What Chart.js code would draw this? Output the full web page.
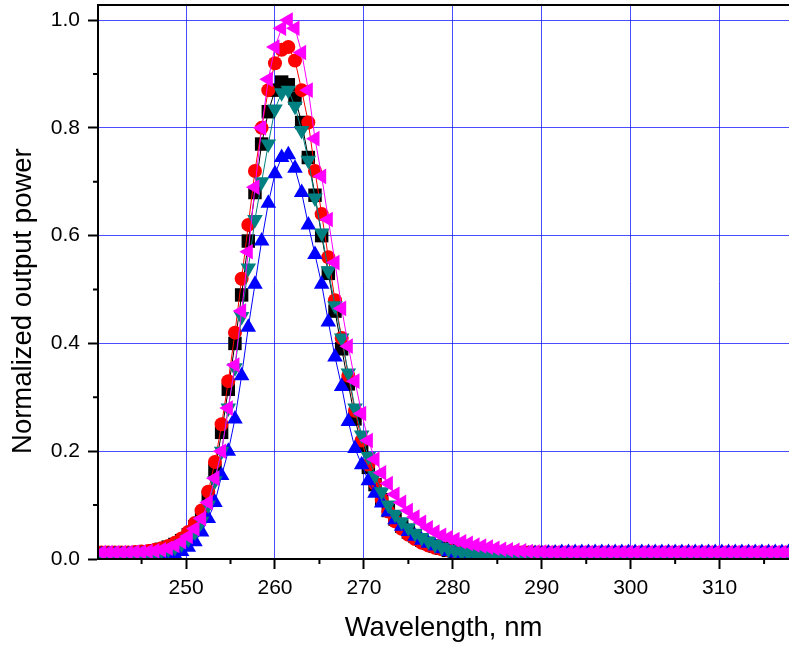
<!DOCTYPE html>
<html>
<head>
<meta charset="utf-8">
<script src="https://cdn.jsdelivr.net/npm/chart.js@4.4.1/dist/chart.umd.min.js"></script>
<style>
html, body { margin: 0; padding: 0; background: #fff; }
#wrap { width: 789px; height: 647px; }
</style>
</head>
<body>
<div id="wrap"><canvas id="spectra"></canvas></div>
<script>
// wavelength grid, nm
const wavelength = [
  240.5, 241.25, 242, 242.75, 243.5, 244.25, 245, 245.75, 246.5, 247.25, 248, 248.75, 249.5,
  250.25, 251, 251.75, 252.5, 253.25, 254, 254.75, 255.5, 256.25, 257, 257.75, 258.5, 259.25,
  260, 260.75, 261.5, 262.25, 263, 263.75, 264.5, 265.25, 266, 266.75, 267.5, 268.25, 269,
  269.75, 270.5, 271.25, 272, 272.75, 273.5, 274.25, 275, 275.75, 276.5, 277.25, 278, 278.75,
  279.5, 280.25, 281, 281.75, 282.5, 283.25, 284, 284.75, 285.5, 286.25, 287, 287.75, 288.5,
  289.25, 290, 290.75, 291.5, 292.25, 293, 293.75, 294.5, 295.25, 296, 296.75, 297.5, 298.25,
  299, 299.75, 300.5, 301.25, 302, 302.75, 303.5, 304.25, 305, 305.75, 306.5, 307.25, 308,
  308.75, 309.5, 310.25, 311, 311.75, 312.5, 313.25, 314, 314.75, 315.5, 316.25, 317, 317.75
];

const powerBlack = [
  0.011, 0.011, 0.011, 0.011, 0.011, 0.011, 0.012, 0.013, 0.015, 0.018, 0.022, 0.027, 0.034,
  0.045, 0.06, 0.082, 0.115, 0.165, 0.235, 0.315, 0.4, 0.49, 0.59, 0.68, 0.77, 0.83,
  0.87, 0.885, 0.88, 0.855, 0.81, 0.745, 0.675, 0.6, 0.53, 0.46, 0.39, 0.325, 0.26,
  0.21, 0.17, 0.138, 0.11, 0.09, 0.074, 0.061, 0.05, 0.042, 0.035, 0.029, 0.024, 0.02,
  0.016, 0.014, 0.012, 0.011, 0.011, 0.011, 0.011, 0.011, 0.011, 0.011, 0.011, 0.011, 0.011,
  0.011, 0.011, 0.011, 0.011, 0.011, 0.011, 0.011, 0.011, 0.011, 0.011, 0.011, 0.011, 0.011,
  0.011, 0.011, 0.011, 0.011, 0.011, 0.011, 0.011, 0.011, 0.011, 0.011, 0.011, 0.011, 0.011,
  0.011, 0.011, 0.011, 0.011, 0.011, 0.011, 0.011, 0.011, 0.011, 0.011, 0.011, 0.011, 0.011
];

const powerRed = [
  0.012, 0.012, 0.012, 0.012, 0.012, 0.013, 0.014, 0.015, 0.017, 0.02, 0.024, 0.03, 0.038,
  0.05, 0.067, 0.09, 0.125, 0.18, 0.25, 0.33, 0.42, 0.52, 0.62, 0.72, 0.8, 0.87,
  0.92, 0.945, 0.95, 0.925, 0.87, 0.81, 0.72, 0.64, 0.56, 0.48, 0.41, 0.34, 0.275,
  0.22, 0.175, 0.14, 0.11, 0.088, 0.07, 0.056, 0.045, 0.037, 0.03, 0.025, 0.021, 0.018,
  0.016, 0.014, 0.013, 0.012, 0.012, 0.012, 0.012, 0.012, 0.012, 0.012, 0.012, 0.012, 0.012,
  0.012, 0.012, 0.012, 0.012, 0.012, 0.012, 0.012, 0.012, 0.012, 0.012, 0.012, 0.012, 0.012,
  0.012, 0.012, 0.012, 0.012, 0.012, 0.012, 0.012, 0.012, 0.012, 0.012, 0.012, 0.012, 0.012,
  0.012, 0.012, 0.012, 0.012, 0.012, 0.012, 0.012, 0.012, 0.012, 0.012, 0.012, 0.012, 0.012
];

const powerBlue = [
  0.008, 0.008, 0.008, 0.008, 0.008, 0.008, 0.008, 0.007, 0.006, 0.005, 0.004, 0.008, 0.014,
  0.022, 0.032, 0.05, 0.075, 0.105, 0.155, 0.2, 0.26, 0.34, 0.43, 0.51, 0.59, 0.66,
  0.715, 0.745, 0.75, 0.725, 0.68, 0.62, 0.565, 0.51, 0.44, 0.375, 0.32, 0.255, 0.205,
  0.175, 0.145, 0.122, 0.104, 0.087, 0.073, 0.061, 0.051, 0.042, 0.035, 0.029, 0.024, 0.019,
  0.014, 0.011, 0.008, 0.006, 0.004, 0.003, 0.003, 0.004, 0.005, 0.006, 0.007, 0.008, 0.009,
  0.01, 0.01, 0.011, 0.011, 0.012, 0.012, 0.012, 0.012, 0.012, 0.012, 0.012, 0.012, 0.012,
  0.012, 0.012, 0.012, 0.012, 0.012, 0.012, 0.012, 0.012, 0.012, 0.012, 0.012, 0.012, 0.012,
  0.012, 0.012, 0.012, 0.012, 0.012, 0.012, 0.012, 0.012, 0.012, 0.012, 0.012, 0.012, 0.012
];

const powerTeal = [
  0.01, 0.01, 0.01, 0.01, 0.01, 0.01, 0.011, 0.012, 0.013, 0.015, 0.018, 0.022, 0.028,
  0.037, 0.05, 0.07, 0.1, 0.145, 0.2, 0.28, 0.355, 0.45, 0.54, 0.63, 0.7, 0.77,
  0.835, 0.865, 0.87, 0.84, 0.795, 0.74, 0.67, 0.605, 0.535, 0.47, 0.41, 0.345, 0.28,
  0.23, 0.19, 0.155, 0.125, 0.1, 0.083, 0.069, 0.058, 0.048, 0.04, 0.033, 0.027, 0.022,
  0.018, 0.015, 0.012, 0.01, 0.009, 0.008, 0.008, 0.009, 0.009, 0.01, 0.01, 0.01, 0.01,
  0.01, 0.01, 0.01, 0.01, 0.01, 0.01, 0.01, 0.01, 0.01, 0.01, 0.01, 0.01, 0.01,
  0.01, 0.01, 0.01, 0.01, 0.01, 0.01, 0.01, 0.01, 0.01, 0.01, 0.01, 0.01, 0.01,
  0.01, 0.01, 0.01, 0.01, 0.01, 0.01, 0.01, 0.01, 0.01, 0.01, 0.01, 0.01, 0.01
];

const powerMagenta = [
  0.012, 0.012, 0.012, 0.012, 0.012, 0.013, 0.013, 0.014, 0.015, 0.017, 0.02, 0.025, 0.032,
  0.042, 0.056, 0.075, 0.105, 0.15, 0.2, 0.28, 0.36, 0.46, 0.57, 0.69, 0.8, 0.89,
  0.95, 0.985, 1.0, 0.985, 0.94, 0.87, 0.78, 0.71, 0.63, 0.55, 0.465, 0.395, 0.33,
  0.27, 0.22, 0.185, 0.16, 0.14, 0.12, 0.105, 0.09, 0.078, 0.068, 0.058, 0.05, 0.044,
  0.04, 0.036, 0.032, 0.029, 0.026, 0.024, 0.022, 0.02, 0.018, 0.017, 0.016, 0.015, 0.014,
  0.013, 0.013, 0.012, 0.012, 0.012, 0.012, 0.012, 0.012, 0.012, 0.012, 0.012, 0.012, 0.012,
  0.012, 0.012, 0.012, 0.012, 0.012, 0.012, 0.012, 0.012, 0.012, 0.012, 0.012, 0.012, 0.012,
  0.012, 0.012, 0.012, 0.012, 0.012, 0.012, 0.012, 0.012, 0.012, 0.012, 0.012, 0.012, 0.012
];

const xTicks = [250, 260, 270, 280, 290, 300, 310];
const xMinor = [245, 255, 265, 275, 285, 295, 305, 315];
const yTicks = [0, 0.2, 0.4, 0.6, 0.8, 1.0];
const yMinor = [0.1, 0.3, 0.5, 0.7, 0.9];

const font = 'Liberation Sans, Arial, sans-serif';

function series(values, color, style, rotation, radius, order) {
  return {
    data: wavelength.map((w, i) => ({ x: w, y: values[i] })),
    borderColor: color,
    backgroundColor: color,
    borderWidth: 1,
    pointStyle: style,
    pointRotation: rotation,
    pointRadius: radius,
    pointBorderWidth: 0,
    pointBackgroundColor: color,
    tension: 0,
    order: order
  };
}

// top frame line, minor ticks, axis lines redrawn over the markers
const frame = {
  id: 'frame',
  afterDatasetsDraw(chart) {
    const { ctx, chartArea: a, scales: { x, y } } = chart;
    ctx.save();
    ctx.strokeStyle = '#000';
    ctx.lineWidth = 2;
    ctx.beginPath();
    ctx.moveTo(a.left - 1, a.top);
    ctx.lineTo(a.right, a.top);
    ctx.moveTo(a.left, a.top);
    ctx.lineTo(a.left, a.bottom + 1);
    ctx.moveTo(a.left - 1, a.bottom);
    ctx.lineTo(a.right, a.bottom);
    xMinor.forEach(v => {
      const px = x.getPixelForValue(v);
      ctx.moveTo(px, a.bottom);
      ctx.lineTo(px, a.bottom + 5);
    });
    yMinor.forEach(v => {
      const py = y.getPixelForValue(v);
      ctx.moveTo(a.left, py);
      ctx.lineTo(a.left - 5, py);
    });
    ctx.stroke();
    ctx.restore();
  }
};

const ctx = document.getElementById('spectra').getContext('2d');

new Chart(ctx, {
  type: 'line',
  data: {
    datasets: [
      series(powerBlack, '#000000', 'rect', 0, 9.5, 5),
      series(powerRed, '#ff0000', 'circle', 0, 7, 4),
      series(powerBlue, '#0000ff', 'triangle', 0, 9, 3),
      series(powerTeal, '#008080', 'triangle', 180, 9, 2),
      series(powerMagenta, '#ff00ff', 'triangle', -90, 9, 1)
    ]
  },
  options: {
    responsive: true,
    maintainAspectRatio: false,
    animation: false,
    layout: { autoPadding: false, padding: { top: 5, right: 0, bottom: 0, left: 0 } },
    plugins: { legend: { display: false }, tooltip: { enabled: false } },
    scales: {
      x: {
        type: 'linear',
        min: 240.1,
        max: 317.8,
        afterBuildTicks: s => { s.ticks = xTicks.map(v => ({ value: v })); },
        afterFit: s => { s.height = 88; s.paddingLeft = 0; s.paddingRight = 0; },
        grid: { color: 'rgba(0,0,255,0.7)', lineWidth: 1, tickLength: 10, tickColor: '#000', tickWidth: 2 },
        border: { color: '#000', width: 2 },
        ticks: { color: '#000', font: { family: font, size: 21 }, padding: 7, maxRotation: 0 },
        title: { display: true, text: 'Wavelength, nm', color: '#000', font: { family: font, size: 27.5 }, padding: { top: 0, bottom: 2 } }
      },
      y: {
        min: 0,
        max: 1.028,
        afterBuildTicks: s => { s.ticks = yTicks.map(v => ({ value: v })); },
        afterFit: s => { s.width = 98; s.paddingTop = 0; s.paddingBottom = 0; },
        grid: { color: 'rgba(0,0,255,0.7)', lineWidth: 1, tickLength: 10, tickColor: '#000', tickWidth: 2 },
        border: { color: '#000', width: 2 },
        ticks: { color: '#000', font: { family: font, size: 21 }, padding: 8, callback: v => v.toFixed(1) },
        title: { display: true, text: 'Normalized output power     ', color: '#000', font: { family: font, size: 27.5 }, padding: { top: 7, bottom: 0 } }
      }
    }
  },
  plugins: [frame]
});
</script>
</body>
</html>
